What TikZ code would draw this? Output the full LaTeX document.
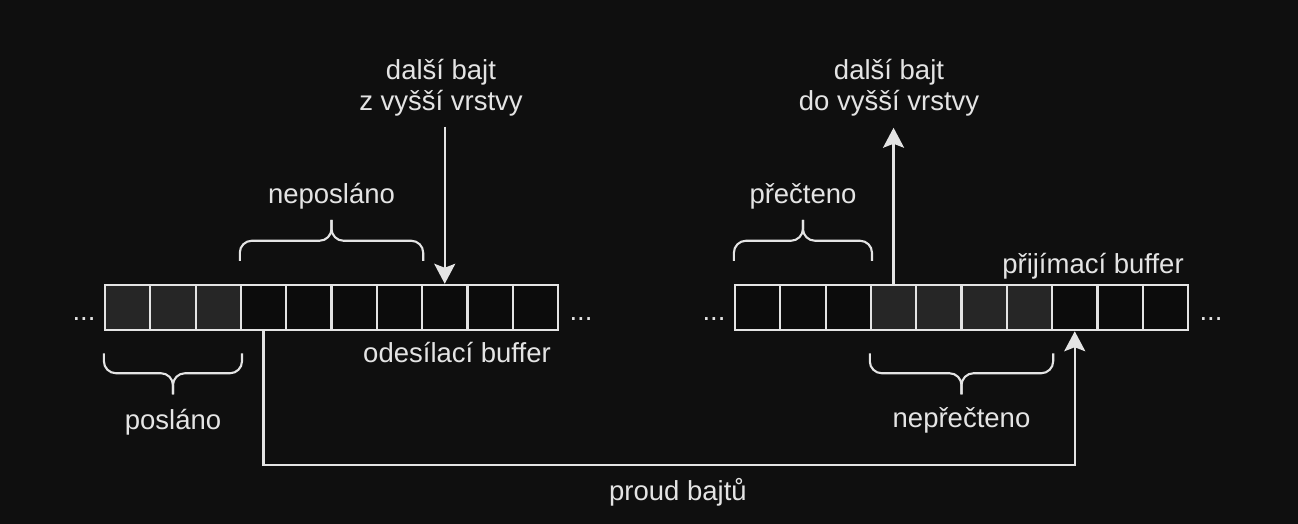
\documentclass[tikz,border=0pt]{standalone}
\usepackage{fontspec}
\setmainfont{Liberation Sans}
\usetikzlibrary{calc,arrows.meta}
\definecolor{bg}{HTML}{0F0F0F}
\definecolor{fg}{HTML}{E4E4E4}
\definecolor{cellgray}{HTML}{262626}
\definecolor{celldark}{HTML}{0C0C0C}
\begin{document}
\begin{tikzpicture}[x=1pt,y=-1pt,
  lbl/.style={text=fg,font=\fontsize{27.5}{31}\selectfont,inner sep=0pt},
  cell/.style={draw=fg,line width=2.2pt,minimum width=45.3pt,minimum height=45.3pt,inner sep=0pt,fill=celldark},
  sentcell/.style={cell,fill=cellgray},
  conn/.style={draw=fg,line width=2.2pt},
  arr/.style={conn,-{Stealth[length=20pt,width=21pt,inset=4pt]}},
  brc/.style={draw=fg,line width=2.1pt,rounded corners=12pt}]
\fill[bg] (0,0) rectangle (1298,524);
\useasboundingbox (0,0) rectangle (1298,524);
% sending buffer
\foreach \i in {0,1,2} {\node[sentcell] (s\i) at (127.65+45.3*\i,307.5) {};}
\foreach \i in {3,...,9} {\node[cell] (s\i) at (127.65+45.3*\i,307.5) {};}
% receiving buffer
\foreach \i in {0,1,2,7,8,9} {\node[cell] (r\i) at (757.65+45.3*\i,307.5) {};}
\foreach \i in {3,...,6} {\node[sentcell] (r\i) at (757.65+45.3*\i,307.5) {};}
% dots
\node[lbl,anchor=base] (dsl) at (84,320) {...};
\node[lbl,anchor=base] (dsr) at (581,320) {...};
\node[lbl,anchor=base] (drl) at (714,320) {...};
\node[lbl,anchor=base] (drr) at (1211,320) {...};
% braces
\draw[brc] ($(s3.north west)+(0,-23)$) |- ($(s3.north west)!0.5!(s6.north east)+(0,-43)$) -- ++(0,-21);
\draw[brc] ($(s6.north east)+(0,-23)$) |- ($(s3.north west)!0.5!(s6.north east)+(0,-43)$) -- ++(0,-21);
\draw[brc] ($(r0.north west)+(0,-23)$) |- ($(r0.north west)!0.5!(r2.north east)+(0,-43)$) -- ++(0,-21);
\draw[brc] ($(r2.north east)+(0,-23)$) |- ($(r0.north west)!0.5!(r2.north east)+(0,-43)$) -- ++(0,-21);
\draw[brc] ($(s0.south west)+(0,22)$) |- ($(s0.south west)!0.5!(s2.south east)+(0,42)$) -- ++(0,21);
\draw[brc] ($(s2.south east)+(0,22)$) |- ($(s0.south west)!0.5!(s2.south east)+(0,42)$) -- ++(0,21);
\draw[brc] ($(r3.south west)+(0,22)$) |- ($(r3.south west)!0.5!(r6.south east)+(0,42)$) -- ++(0,21);
\draw[brc] ($(r6.south east)+(0,22)$) |- ($(r3.south west)!0.5!(r6.south east)+(0,42)$) -- ++(0,21);
% arrows
\coordinate (srcL) at ($(s7.north)+(0,-157)$);
\coordinate (dstR) at ($(r3.north)+(0,-156)$);
\draw[arr] (srcL) -- (s7.north);
\draw[arr] (r3.north) -- (dstR);
\draw[arr] (s3.south) -- ++(0,134) -| (r7.south);
% labels
\node[lbl,align=center,anchor=south] (upL) at (441,116) {další bajt\\z vyšší vrstvy};
\node[lbl,align=center,anchor=south] (upR) at (889,116) {další bajt\\do vyšší vrstvy};
\node[lbl,anchor=base] (nepos) at (331.5,203) {neposláno};
\node[lbl,anchor=base] (prec) at (803,203) {přečteno};
\node[lbl,anchor=base] (prij) at (1093,273) {přijímací buffer};
\node[lbl,anchor=base] (odes) at (457,362) {odesílací buffer};
\node[lbl,anchor=base] (posl) at (173,429) {posláno};
\node[lbl,anchor=base] (neprec) at (961.5,427) {nepřečteno};
\node[lbl,anchor=base] (proud) at (678,500) {proud bajtů};
\end{tikzpicture}
\end{document}
